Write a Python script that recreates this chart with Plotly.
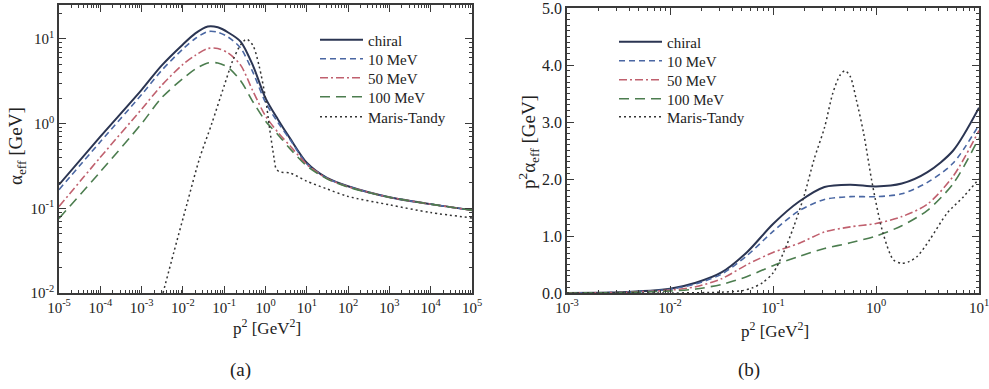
import plotly.graph_objects as go

# ---------------- data: panel (a) alpha_eff vs p^2 ----------------
p2_a = [1e-5, 1e-4, 1e-3, 3e-3, 1e-2, 0.02, 0.04, 0.07, 0.125, 0.25, 0.5, 1.0,
        2.0, 4.0, 10.0, 30.0, 100.0, 1e3, 1e4, 1e5]
alpha_chiral = [0.19, 0.70, 2.5, 4.8, 8.6, 11.6, 14.0, 13.7, 11.9, 9.3, 4.8, 2.0,
                1.12, 0.66, 0.345, 0.23, 0.182, 0.135, 0.112, 0.095]
alpha_10 = [0.166, 0.61, 2.2, 4.2, 7.6, 10.1, 12.2, 12.0, 10.5, 7.8, 4.0, 1.78,
            1.03, 0.64, 0.335, 0.229, 0.181, 0.135, 0.112, 0.095]
alpha_50 = [0.105, 0.40, 1.48, 2.8, 5.0, 6.4, 7.7, 7.7, 6.8, 4.9, 2.4, 1.23,
            0.79, 0.54, 0.33, 0.226, 0.180, 0.135, 0.112, 0.095]
alpha_100 = [0.076, 0.27, 1.0, 2.0, 3.4, 4.4, 5.2, 5.2, 4.6, 3.2, 1.8, 1.07,
             0.74, 0.50, 0.316, 0.224, 0.178, 0.135, 0.112, 0.095]
p2_mt_a = [3.3e-3, 6e-3, 0.0125, 0.025, 0.05, 0.1, 0.16, 0.25, 0.35, 0.5, 0.7, 1.0,
           1.25, 1.6, 1.8, 2.2, 4.0, 10.0, 30.0, 100.0, 1e3, 1e4, 1e5]
alpha_mt = [0.010, 0.030, 0.112, 0.38, 1.0, 2.8, 5.5, 8.5, 9.9, 8.3, 4.8, 2.0,
            0.89, 0.40, 0.295, 0.27, 0.26, 0.209, 0.17, 0.138, 0.11, 0.089, 0.077]

# ---------------- data: panel (b) p^2 * alpha_eff vs p^2 ----------------
p2_b = [1e-3, 3.16e-3, 1e-2, 0.0178, 0.0316, 0.0562, 0.1, 0.178, 0.316, 0.562,
        1.0, 1.78, 3.16, 5.62, 10.0]
p2alpha_chiral = [0.002, 0.012, 0.075, 0.18, 0.36, 0.72, 1.21, 1.60, 1.86, 1.90,
                  1.87, 1.92, 2.12, 2.50, 3.25]
p2alpha_10 = [0.002, 0.011, 0.065, 0.16, 0.33, 0.66, 1.08, 1.44, 1.64, 1.69,
              1.69, 1.74, 1.94, 2.28, 2.95]
p2alpha_50 = [0.0015, 0.009, 0.05, 0.11, 0.25, 0.50, 0.71, 0.87, 1.07, 1.16,
              1.22, 1.34, 1.56, 2.05, 2.85]
p2alpha_100 = [0.001, 0.006, 0.035, 0.07, 0.15, 0.29, 0.48, 0.64, 0.78, 0.88,
               1.0, 1.18, 1.45, 1.92, 2.72]
p2_mt_b = [1e-3, 1e-2, 0.0316, 0.05, 0.063, 0.079, 0.1, 0.126, 0.158, 0.2, 0.251,
           0.316, 0.38, 0.447, 0.5, 0.562, 0.646, 0.759, 0.933, 1.17, 1.48, 1.78,
           2.09, 2.51, 3.31, 4.9, 7.08, 10.0]
p2alpha_mt = [0.0, 0.0, 0.015, 0.04, 0.09, 0.18, 0.35, 0.70, 1.15, 1.70, 2.35,
              2.90, 3.50, 3.82, 3.90, 3.80, 3.38, 2.80, 1.86, 1.05, 0.58, 0.52,
              0.55, 0.64, 0.93, 1.40, 1.69, 2.0]

names = ["chiral", "10 MeV", "50 MeV", "100 MeV", "Maris-Tandy"]
colors = ["#2b3552", "#4a67a3", "#c0606e", "#4c7d4f", "#333333"]
dashes = ["solid", "6px,4px", "8px,3px,2px,3px", "10px,6px", "2px,3px"]
widths = [2.0, 1.6, 1.6, 1.6, 1.5]

FONT = "Liberation Serif"
W, H = 989, 389


def px(x):
    return x / W


def py(y):
    return 1 - y / H


# legend row centres (pixels) for each panel
rows_a = [40, 59, 78, 97, 117]
rows_b = [42, 61, 80, 99, 117]

fig = go.Figure()

series_a = [(p2_a, alpha_chiral), (p2_a, alpha_10), (p2_a, alpha_50),
            (p2_a, alpha_100), (p2_mt_a, alpha_mt)]
series_b = [(p2_b, p2alpha_chiral), (p2_b, p2alpha_10), (p2_b, p2alpha_50),
            (p2_b, p2alpha_100), (p2_mt_b, p2alpha_mt)]

legend_layouts = {}
for i, (xs, ys) in enumerate(series_a):
    lname = "legend" if i == 0 else "legend%d" % (i + 1)
    fig.add_trace(go.Scatter(
        x=xs, y=ys, name=names[i], mode="lines", xaxis="x", yaxis="y",
        line=dict(color=colors[i], dash=dashes[i], width=widths[i],
                  shape="spline", smoothing=0.8),
        legend=lname))
    legend_layouts[lname] = dict(x=px(315), y=py(rows_a[i]), xanchor="left",
                                 yanchor="middle", bgcolor="rgba(0,0,0,0)",
                                 font=dict(family=FONT, size=15, color="#222"),
                                 itemwidth=43)
for i, (xs, ys) in enumerate(series_b):
    lname = "legend%d" % (i + 6)
    fig.add_trace(go.Scatter(
        x=xs, y=ys, name=names[i], mode="lines", xaxis="x2", yaxis="y2",
        line=dict(color=colors[i], dash=dashes[i], width=widths[i],
                  shape="spline", smoothing=0.8),
        legend=lname))
    legend_layouts[lname] = dict(x=px(614), y=py(rows_b[i]), xanchor="left",
                                 yanchor="middle", bgcolor="rgba(0,0,0,0)",
                                 font=dict(family=FONT, size=15, color="#222"),
                                 itemwidth=43)

axcommon = dict(showline=True, linecolor="#3a3a3a", linewidth=1.5, mirror="allticks",
                ticks="inside", ticklen=7, tickwidth=1.2, tickcolor="#3a3a3a",
                showgrid=False, zeroline=False, automargin=False,
                ticklabeloverflow="allow")

xa_vals = [10.0 ** k for k in range(-5, 6)]
xa_text = ["10<sup>%d</sup>" % k for k in range(-5, 6)]
ya_vals = [0.01, 0.1, 1, 10]
ya_text = ["10<sup>-2</sup>", "10<sup>-1</sup>", "10<sup>0</sup>", "10<sup>1</sup>"]
xb_vals = [1e-3, 1e-2, 1e-1, 1, 10]
xb_text = ["10<sup>-3</sup>", "10<sup>-2</sup>", "10<sup>-1</sup>", "10<sup>0</sup>", "10<sup>1</sup>"]
yb_vals = [0, 1, 2, 3, 4, 5]
yb_text = ["0.0", "1.0", "2.0", "3.0", "4.0", "5.0"]

minor_log = dict(ticks="inside", ticklen=3.5, tickcolor="#3a3a3a", dtick="D1", showgrid=False)
tfont = dict(family=FONT, size=15, color="#222")

fig.update_layout(
    width=W, height=H, margin=dict(l=0, r=0, t=0, b=0, autoexpand=False),
    paper_bgcolor="white", plot_bgcolor="white",
    font=dict(family=FONT, size=15, color="#222"),
    xaxis=dict(type="log", range=[-5, 5], domain=[px(59), px(472)], anchor="y",
               tickmode="array", tickvals=xa_vals, ticktext=xa_text, tickfont=tfont,
               minor=minor_log, **axcommon),
    yaxis=dict(type="log", range=[-2, 1.4], domain=[py(293), py(5)], anchor="x",
               tickmode="array", tickvals=ya_vals, ticktext=ya_text, tickfont=tfont,
               minor=minor_log, **axcommon),
    xaxis2=dict(type="log", range=[-3, 1], domain=[px(567), px(979)], anchor="y2",
                tickmode="array", tickvals=xb_vals, ticktext=xb_text, tickfont=tfont,
                minor=minor_log, **axcommon),
    yaxis2=dict(range=[0, 5], domain=[py(293), py(8)], anchor="x2",
                tickmode="array", tickvals=yb_vals, ticktext=yb_text,
                tickfont=dict(family=FONT, size=16, color="#222"),
                minor=dict(ticks="inside", ticklen=3.5, tickcolor="#3a3a3a",
                           dtick=0.1, tick0=0, showgrid=False),
                **axcommon),
    showlegend=True,
    **legend_layouts,
)

afont = dict(family=FONT, size=17, color="#222")
yfont = dict(family=FONT, size=19, color="#222")
common = dict(xref="paper", yref="paper", showarrow=False, xanchor="center", yanchor="middle")
ann = [
    dict(text="p<sup>2</sup> [GeV<sup>2</sup>]", x=px(267), y=py(327), font=afont, **common),
    dict(text="p<sup>2</sup> [GeV<sup>2</sup>]", x=px(775), y=py(330), font=afont, **common),
    dict(text="α<sub>eff</sub> [GeV]", x=px(17), y=py(146), textangle=-90, font=yfont, **common),
    dict(text="p<sup>2</sup>α<sub>eff</sub> [GeV]", x=px(528), y=py(142), textangle=-90,
         font=yfont, **common),
    dict(text="(a)", x=px(240), y=py(370), font=dict(family=FONT, size=19, color="#222"), **common),
    dict(text="(b)", x=px(749), y=py(370), font=dict(family=FONT, size=19, color="#222"), **common),
]
fig.update_layout(annotations=ann)

fig.write_html(
    "out.html",
    config={"displayModeBar": False},
    post_script="document.body.style.margin='0px';document.body.style.overflow='hidden';"
                "document.documentElement.style.overflow='hidden';",
)
